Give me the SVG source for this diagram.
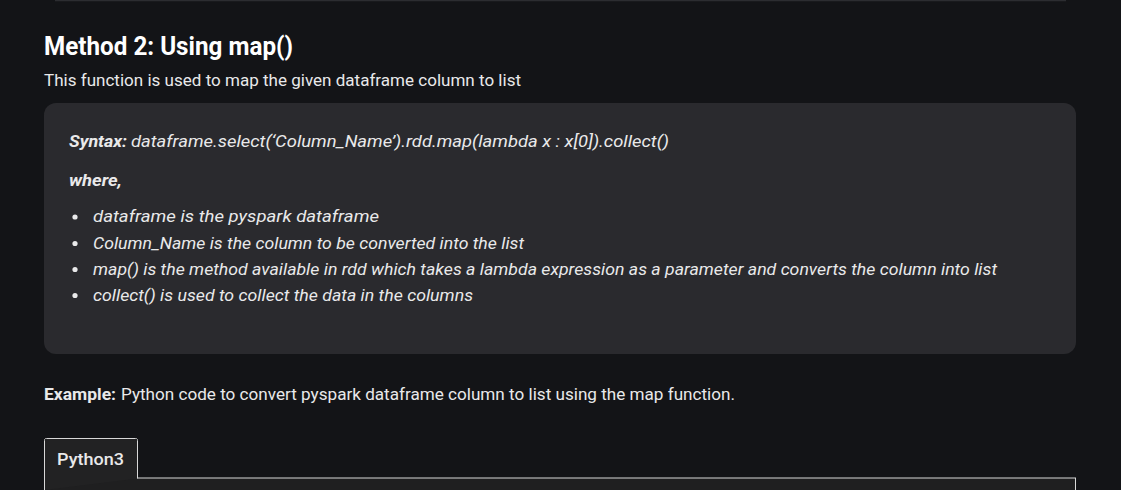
<svg xmlns="http://www.w3.org/2000/svg" width="1121" height="490" viewBox="0 0 1121 490">
<style>
.t{font-family:Roboto,"Liberation Sans",sans-serif;fill:#e9e9ea}
.h{font-size:25px;font-weight:700;fill:#ffffff}
.b{font-size:17px}
.i{font-size:17px;font-style:italic}
.bi{font-size:17px;font-style:italic;font-weight:700}
.bd{font-size:17px;font-weight:700}
.tab{font-size:17px;font-weight:500}
</style>
<rect x="0" y="0" width="1121" height="490" fill="#131417"/>
<line x1="55" y1="0.5" x2="1066" y2="0.5" stroke="#2c2d31" stroke-width="1.5"/>
<g id="heading">
<text class="t h" x="44" y="55" textLength="249" lengthAdjust="spacingAndGlyphs">Method 2: Using map()</text>
<text class="t b" x="44" y="86" textLength="477" lengthAdjust="spacingAndGlyphs">This function is used to map the given dataframe column to list</text>
</g>
<g id="syntax-box">
<rect x="44" y="103" width="1032" height="251" rx="12" fill="#2a2a2e"/>
<text class="t bi" x="69" y="147" textLength="58" lengthAdjust="spacingAndGlyphs">Syntax:</text>
<text class="t i" x="131" y="147" textLength="538" lengthAdjust="spacingAndGlyphs">dataframe.select(‘Column_Name’).rdd.map(lambda x : x[0]).collect()</text>
<text class="t bi" x="69" y="186" textLength="53" lengthAdjust="spacingAndGlyphs">where,</text>
<circle cx="75" cy="217" r="2.6" fill="#e9e9ea"/>
<circle cx="75" cy="243.5" r="2.6" fill="#e9e9ea"/>
<circle cx="75" cy="269.5" r="2.6" fill="#e9e9ea"/>
<circle cx="75" cy="295.5" r="2.6" fill="#e9e9ea"/>
<text class="t i" x="93" y="222" textLength="286" lengthAdjust="spacingAndGlyphs">dataframe is the pyspark dataframe</text>
<text class="t i" x="93" y="249" textLength="431" lengthAdjust="spacingAndGlyphs">Column_Name is the column to be converted into the list</text>
<text class="t i" x="93" y="275" textLength="904" lengthAdjust="spacingAndGlyphs">map() is the method available in rdd which takes a lambda expression as a parameter and converts the column into list</text>
<text class="t i" x="93" y="301" textLength="380" lengthAdjust="spacingAndGlyphs">collect() is used to collect the data in the columns</text>
</g>
<g id="example">
<text class="t bd" x="44" y="400" textLength="72" lengthAdjust="spacingAndGlyphs">Example:</text>
<text class="t b" x="121" y="400" textLength="614" lengthAdjust="spacingAndGlyphs">Python code to convert pyspark dataframe column to list using the map function.</text>
</g>
<g id="code-tab">
<rect x="44.5" y="478" width="1031" height="20" fill="#1f1f20" stroke="#d8d8d8" stroke-width="1"/>
<path d="M44.5 490 V440.5 Q44.5 438.5 46.5 438.5 H135.5 Q137.5 438.5 137.5 440.5 V478.5" fill="#222223" stroke="#d8d8d8" stroke-width="1"/>
<rect x="45" y="439" width="92" height="40" fill="#222223"/>
<text class="t tab" x="57" y="465" textLength="67" lengthAdjust="spacingAndGlyphs">Python3</text>
</g>
</svg>
